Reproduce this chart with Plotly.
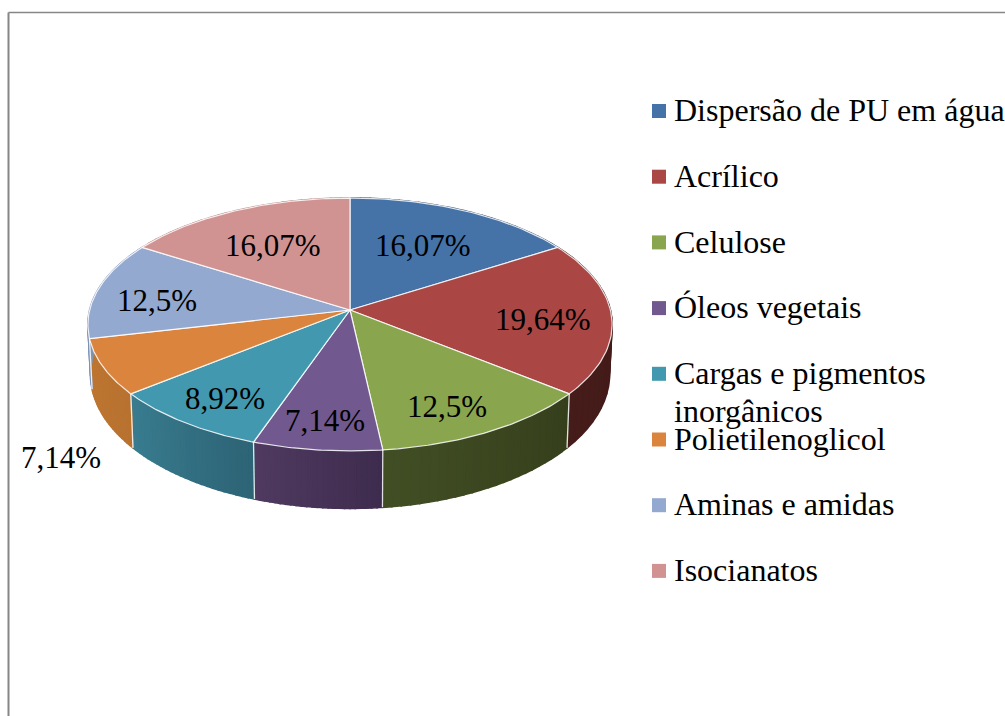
import math
import plotly.graph_objects as go

categories = ["Dispersão de PU em água", "Acrílico", "Celulose", "Óleos vegetais",
              "Cargas e pigmentos<br>inorgânicos", "Polietilenoglicol", "Aminas e amidas", "Isocianatos"]
values = [16.07, 19.64, 12.5, 7.14, 8.92, 7.14, 12.5, 16.07]
value_labels = ["16,07%", "19,64%", "12,5%", "7,14%", "8,92%", "7,14%", "12,5%", "16,07%"]

top_colors = ["#4572A7", "#AA4643", "#89A54E", "#71588F", "#4198AF", "#DB843D", "#93A9CF", "#D19392"]
wall_start = ["#2b4769", "#421a18", "#363f1c", "#3e2c4e", "#2d6476", "#b87230", "#7f93b5", "#b07c7b"]
wall_end = ["#2b4769", "#451c1a", "#414e24", "#503a60", "#397c8f", "#be7631", "#7f93b5", "#b07c7b"]

label_x = [423, 543, 447, 325, 225, 61, 157, 273]
label_y = [245, 319, 406, 420, 398, 457, 300, 245]

CX, CY, A, B, K = 350, 310, 124.8, 260.4, 0.1146
FONT = "Liberation Serif"
TEXT = 31
LEGEND_TEXT = 32


def top(theta):
    X, Y = math.sin(theta), math.cos(theta)
    w = 1 + K * Y
    return CX + B * X / w, CY - A * Y / w


def bottom(theta):
    x, y = top(theta)
    return CX + 0.99 * (x - CX), CY + 49 + 1.06 * (y - CY)


def mix(c1, c2, t):
    a = [int(c1[i:i + 2], 16) for i in (1, 3, 5)]
    b = [int(c2[i:i + 2], 16) for i in (1, 3, 5)]
    return "#%02x%02x%02x" % tuple(round(p + (q - p) * t) for p, q in zip(a, b))


total = sum(values)
edges = [0]
for v in values:
    edges.append(edges[-1] + v / total * 2 * math.pi)

fig = go.Figure()

# side walls
for i in range(len(values)):
    t0, t1 = edges[i], edges[i + 1]
    n = 24
    for j in range(n):
        a0 = t0 + (t1 - t0) * j / n
        a1 = t0 + (t1 - t0) * (j + 1) / n
        arc = [a0 + (a1 - a0) * s / 3 for s in range(4)]
        pts = [top(a) for a in arc] + [bottom(a) for a in reversed(arc)]
        pts.append(pts[0])
        col = mix(wall_start[i], wall_end[i], j / (n - 1))
        fig.add_trace(go.Scatter(x=[p[0] for p in pts], y=[p[1] for p in pts], mode="lines",
                                 fill="toself", fillcolor=col, line=dict(color=col, width=1.6),
                                 hoverinfo="skip", showlegend=False))

# white dividers on the walls
for e in edges[:-1]:
    p, q = top(e), bottom(e)
    fig.add_trace(go.Scatter(x=[p[0], q[0]], y=[p[1], q[1]], mode="lines",
                             line=dict(color="rgba(255,255,255,0.85)", width=1.3),
                             hoverinfo="skip", showlegend=False))

# top face
for i, name in enumerate(categories):
    t0, t1 = edges[i], edges[i + 1]
    arc = [t0 + (t1 - t0) * s / 60 for s in range(61)]
    pts = [(CX, CY)] + [top(a) for a in arc] + [(CX, CY)]
    fig.add_trace(go.Scatter(x=[p[0] for p in pts], y=[p[1] for p in pts], mode="lines",
                             fill="toself", fillcolor=top_colors[i],
                             line=dict(color="rgba(255,255,255,0.85)", width=1.2),
                             name=name.replace("<br>", " "), showlegend=False, hoverinfo="name"))

# value labels
for i, lab in enumerate(value_labels):
    fig.add_annotation(x=label_x[i], y=label_y[i], text=lab, showarrow=False,
                       font=dict(family=FONT, size=TEXT, color="black"),
                       xanchor="center", yanchor="middle")

# legend
for i, name in enumerate(categories):
    ly = 111 + i * 65.7
    fig.add_trace(go.Scatter(x=[659], y=[ly], mode="markers",
                             marker=dict(symbol="square", size=14, color=top_colors[i], line=dict(width=0)),
                             hoverinfo="skip", showlegend=False))
    for k, part in enumerate(name.split("<br>")):
        fig.add_annotation(x=672, y=ly - 0.8 + 38 * k, text=part, showarrow=False, align="left",
                           font=dict(family=FONT, size=LEGEND_TEXT, color="black"),
                           xanchor="left", yanchor="middle")

# outer frame
fig.add_shape(type="line", x0=8.5, x1=8.5, y0=12.5, y1=716, line=dict(color="#868686", width=2))
fig.add_shape(type="line", x0=8.5, x1=1005, y0=12.5, y1=12.5, line=dict(color="#868686", width=1.5))

fig.update_layout(width=1005, height=716, margin=dict(l=0, r=0, t=0, b=0),
                  paper_bgcolor="white", plot_bgcolor="white", showlegend=False,
                  xaxis=dict(range=[0, 1005], visible=False, fixedrange=True),
                  yaxis=dict(range=[716, 0], visible=False, fixedrange=True))

fig.write_html("out.html", config={"displayModeBar": False},
               post_script="document.body.style.margin='0';document.body.style.overflow='hidden';")
